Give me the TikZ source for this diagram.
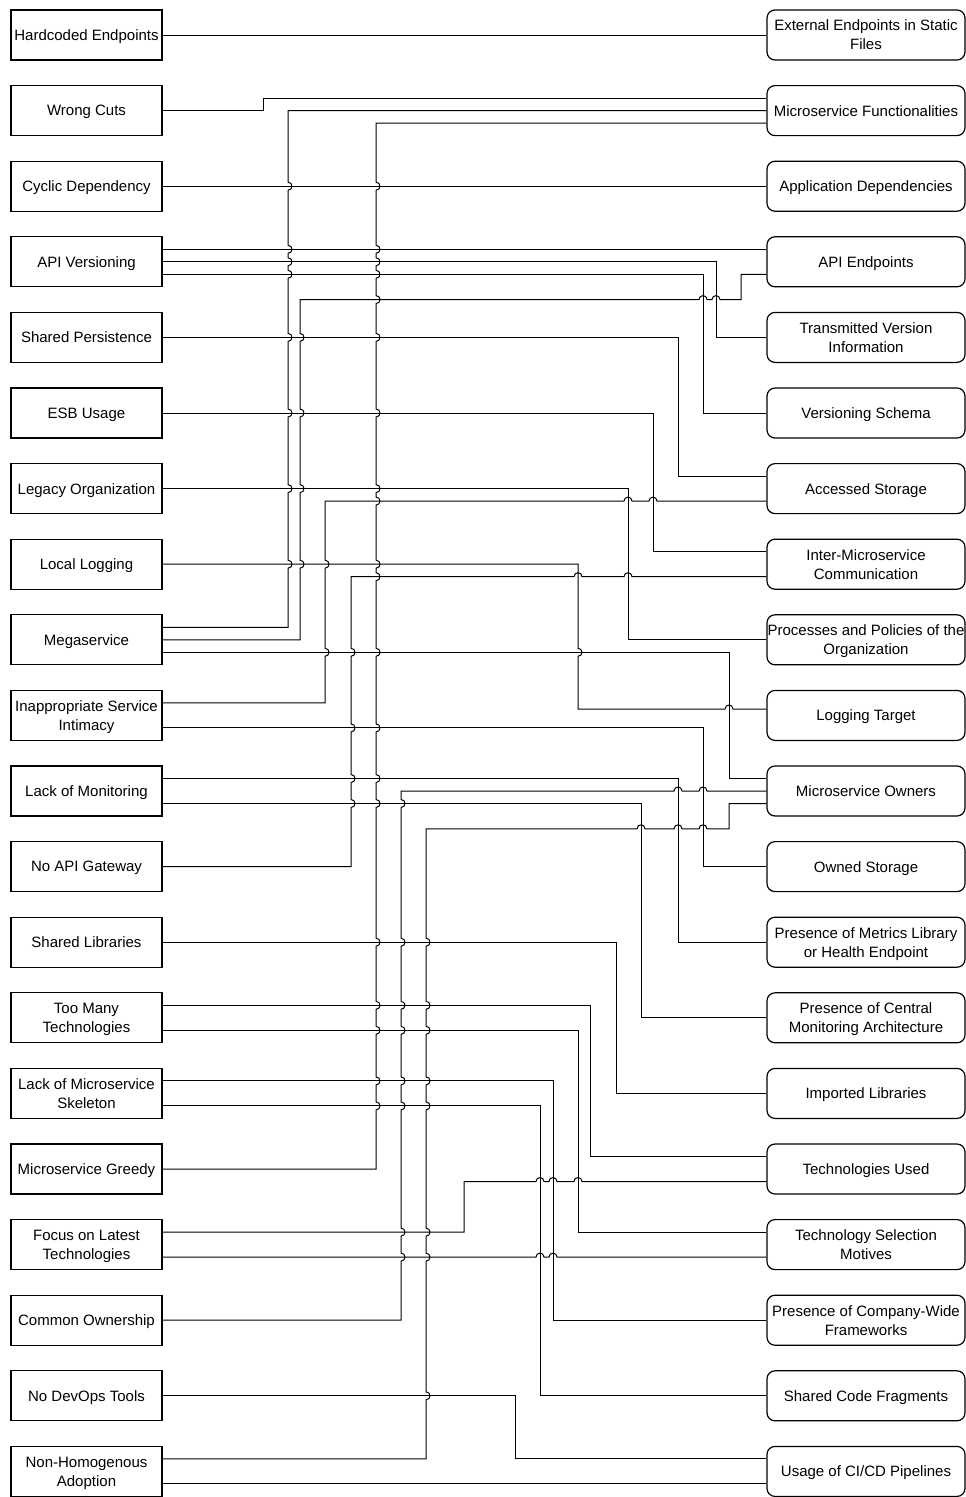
\documentclass[tikz,border=0pt]{standalone}
\usepackage{fontspec}
\setmainfont{Liberation Sans}
% line hops: on a rightward horizontal run, and on upward / downward vertical runs
\newcommand\hopH[2]{-- ({#1-4},#2) .. controls ({#1-4},{#2-5.3}) and ({#1+4},{#2-5.3}) .. ({#1+4},#2)}
\newcommand\hopUp[2]{-- (#1,{#2+4}) .. controls ({#1+5.3},{#2+4}) and ({#1+5.3},{#2-4}) .. (#1,{#2-4})}
\newcommand\hopDown[2]{-- (#1,{#2-4}) .. controls ({#1+5.3},{#2-4}) and ({#1+5.3},{#2+4}) .. (#1,{#2+4})}
\begin{document}
\begin{tikzpicture}[x=1pt,y=-1pt,
  box/.style={draw, line width=1.2pt, minimum height=50pt, inner sep=0pt, align=center,
    text depth=0pt, font=\fontsize{15}{19}\selectfont},
  lbox/.style={box, minimum width=151pt},
  rbox/.style={box, rounded corners=8pt, minimum width=198pt},
  conn/.style={draw, line width=1pt, line join=miter}]
\useasboundingbox (0,0) rectangle (966,1497);

% smells (left column)
\node[lbox] (L0)  at (86.5,35.0)   {Hardcoded Endpoints};
\node[lbox] (L1)  at (86.5,110.6)  {Wrong Cuts};
\node[lbox] (L2)  at (86.5,186.2)  {Cyclic Dependency};
\node[lbox] (L3)  at (86.5,261.8)  {API Versioning};
\node[lbox] (L4)  at (86.5,337.4)  {Shared Persistence};
\node[lbox] (L5)  at (86.5,413.0)  {ESB Usage};
\node[lbox] (L6)  at (86.5,488.6)  {Legacy Organization};
\node[lbox] (L7)  at (86.5,564.2)  {Local Logging};
\node[lbox] (L8)  at (86.5,639.8)  {Megaservice};
\node[lbox] (L9)  at (86.5,715.4)  {Inappropriate Service\\Intimacy};
\node[lbox] (L10) at (86.5,791.0)  {Lack of Monitoring};
\node[lbox] (L11) at (86.5,866.6)  {No API Gateway};
\node[lbox] (L12) at (86.5,942.2)  {Shared Libraries};
\node[lbox] (L13) at (86.5,1017.8) {Too Many\\Technologies};
\node[lbox] (L14) at (86.5,1093.4) {Lack of Microservice\\Skeleton};
\node[lbox] (L15) at (86.5,1169.0) {Microservice Greedy};
\node[lbox] (L16) at (86.5,1244.6) {Focus on Latest\\Technologies};
\node[lbox] (L17) at (86.5,1320.2) {Common Ownership};
\node[lbox] (L18) at (86.5,1395.8) {No DevOps Tools};
\node[lbox] (L19) at (86.5,1471.4) {Non-Homogenous\\Adoption};

% indicators (right column)
\node[rbox] (R0)  at (866,35.0)   {External Endpoints in Static\\Files};
\node[rbox] (R1)  at (866,110.6)  {Microservice Functionalities};
\node[rbox] (R2)  at (866,186.2)  {Application Dependencies};
\node[rbox] (R3)  at (866,261.8)  {API Endpoints};
\node[rbox] (R4)  at (866,337.4)  {Transmitted Version\\Information};
\node[rbox] (R5)  at (866,413.0)  {Versioning Schema};
\node[rbox] (R6)  at (866,488.6)  {Accessed Storage};
\node[rbox] (R7)  at (866,564.2)  {Inter-Microservice\\Communication};
\node[rbox] (R8)  at (866,639.8)  {Processes and Policies of the\\Organization};
\node[rbox] (R9)  at (866,715.4)  {Logging Target};
\node[rbox] (R10) at (866,791.0)  {Microservice Owners};
\node[rbox] (R11) at (866,866.6)  {Owned Storage};
\node[rbox] (R12) at (866,942.2)  {Presence of Metrics Library\\or Health Endpoint};
\node[rbox] (R13) at (866,1017.8) {Presence of Central\\Monitoring Architecture};
\node[rbox] (R14) at (866,1093.4) {Imported Libraries};
\node[rbox] (R15) at (866,1169.0) {Technologies Used};
\node[rbox] (R16) at (866,1244.6) {Technology Selection\\Motives};
\node[rbox] (R17) at (866,1320.2) {Presence of Company-Wide\\Frameworks};
\node[rbox] (R18) at (866,1395.8) {Shared Code Fragments};
\node[rbox] (R19) at (866,1471.4) {Usage of CI/CD Pipelines};

% connectors
\path[conn] (L0.east) -- (R0.west);
\path[conn] (L1.east) -- (263,110.6) -- (263,98.1) -- ([yshift=12.5pt]R1.west);
\path[conn] ([yshift=12.5pt]L8.east) -- (288,627.3)
  \hopUp{288}{564.2} \hopUp{288}{488.6} \hopUp{288}{413} \hopUp{288}{337.4}
  \hopUp{288}{274.3} \hopUp{288}{261.8} \hopUp{288}{249.3} \hopUp{288}{186.2}
  -- (288,110.6) -- (R1.west);
\path[conn] (L15.east) -- (376,1169)
  \hopUp{376}{1105.9} \hopUp{376}{1080.9} \hopUp{376}{1030.3} \hopUp{376}{1005.3}
  \hopUp{376}{942.2} \hopUp{376}{803.5} \hopUp{376}{778.5} \hopUp{376}{727.9}
  \hopUp{376}{652.3} \hopUp{376}{576.7} \hopUp{376}{564.2} \hopUp{376}{501.1}
  \hopUp{376}{488.6} \hopUp{376}{413} \hopUp{376}{337.4} \hopUp{376}{299.6}
  \hopUp{376}{274.3} \hopUp{376}{261.8} \hopUp{376}{249.3} \hopUp{376}{186.2}
  -- (376,123.1) -- ([yshift=-12.5pt]R1.west);
\path[conn] (L2.east) -- (R2.west);
\path[conn] ([yshift=12.5pt]L3.east) -- ([yshift=12.5pt]R3.west);
\path[conn] (L3.east) -- (716,261.8) -- (716,337.4) -- (R4.west);
\path[conn] ([yshift=-12.5pt]L3.east) -- (703,274.3) -- (703,413) -- (R5.west);
\path[conn] (L8.east) -- (300,639.8)
  \hopUp{300}{564.2} \hopUp{300}{488.6} \hopUp{300}{413} \hopUp{300}{337.4}
  -- (300,299.6) \hopH{703}{299.6} \hopH{716}{299.6}
  -- (741,299.6) -- (741,274.3) -- ([yshift=-12.5pt]R3.west);
\path[conn] (L4.east) -- (678,337.4) -- (678,476.1) -- ([yshift=12.5pt]R6.west);
\path[conn] ([yshift=12.5pt]L9.east) -- (325,702.9)
  \hopUp{325}{652.3} \hopUp{325}{564.2}
  -- (325,501.1) \hopH{628}{501.1} \hopH{653}{501.1} -- ([yshift=-12.5pt]R6.west);
\path[conn] (L5.east) -- (653,413) -- (653,551.7) -- ([yshift=12.5pt]R7.west);
\path[conn] (L11.east) -- (351,866.6)
  \hopUp{351}{803.5} \hopUp{351}{778.5} \hopUp{351}{727.9} \hopUp{351}{652.3}
  -- (351,576.7) \hopH{578}{576.7} \hopH{628}{576.7} -- ([yshift=-12.5pt]R7.west);
\path[conn] (L6.east) -- (628,488.6) -- (628,639.8) -- (R8.west);
\path[conn] (L7.east) -- (578,564.2) \hopDown{578}{652.3} -- (578,709)
  \hopH{729}{709} -- ([yshift=6.4pt]R9.west);
\path[conn] ([yshift=-12.5pt]L8.east) -- (729,652.3) -- (729,778.5) -- ([yshift=12.5pt]R10.west);
\path[conn] ([yshift=-12.5pt]L9.east) -- (703,727.9) -- (703,866.6) -- (R11.west);
\path[conn] ([yshift=12.5pt]L10.east) -- (678,778.5) -- (678,942.2) -- (R12.west);
\path[conn] ([yshift=-12.5pt]L10.east) -- (641,803.5) -- (641,1017.8) -- (R13.west);
\path[conn] (L17.east) -- (401,1320.2)
  \hopUp{401}{1257.1} \hopUp{401}{1232.1} \hopUp{401}{1105.9} \hopUp{401}{1080.9}
  \hopUp{401}{1030.3} \hopUp{401}{1005.3} \hopUp{401}{942.2} \hopUp{401}{803.5}
  -- (401,791) \hopH{678}{791} \hopH{703}{791} -- (R10.west);
\path[conn] ([yshift=12.5pt]L19.east) -- (426,1458.9)
  \hopUp{426}{1395.8} \hopUp{426}{1257.1} \hopUp{426}{1232.1} \hopUp{426}{1105.9}
  \hopUp{426}{1080.9} \hopUp{426}{1030.3} \hopUp{426}{1005.3} \hopUp{426}{942.2}
  -- (426,828.8) \hopH{641}{828.8} \hopH{678}{828.8} \hopH{703}{828.8}
  -- (729,828.8) -- (729,803.5) -- ([yshift=-12.5pt]R10.west);
\path[conn] (L12.east) -- (616,942.2) -- (616,1093.4) -- (R14.west);
\path[conn] ([yshift=12.5pt]L13.east) -- (590,1005.3) -- (590,1156.5) -- ([yshift=12.5pt]R15.west);
\path[conn] ([yshift=-12.5pt]L13.east) -- (578,1030.3) -- (578,1232.1) -- ([yshift=12.5pt]R16.west);
\path[conn] ([yshift=12.5pt]L14.east) -- (553,1080.9) -- (553,1320.2) -- (R17.west);
\path[conn] ([yshift=-12.5pt]L14.east) -- (540,1105.9) -- (540,1395.8) -- (R18.west);
\path[conn] ([yshift=12.5pt]L16.east) -- (464,1232.1) -- (464,1181.5)
  \hopH{540}{1181.5} \hopH{553}{1181.5} \hopH{578}{1181.5} -- ([yshift=-12.5pt]R15.west);
\path[conn] ([yshift=-12.5pt]L16.east) \hopH{540}{1257.1} \hopH{553}{1257.1}
  -- ([yshift=-12.5pt]R16.west);
\path[conn] (L18.east) -- (515,1395.8) -- (515,1458.9) -- ([yshift=12.5pt]R19.west);
\path[conn] ([yshift=-12.5pt]L19.east) -- ([yshift=-12.5pt]R19.west);
\end{tikzpicture}
\end{document}
